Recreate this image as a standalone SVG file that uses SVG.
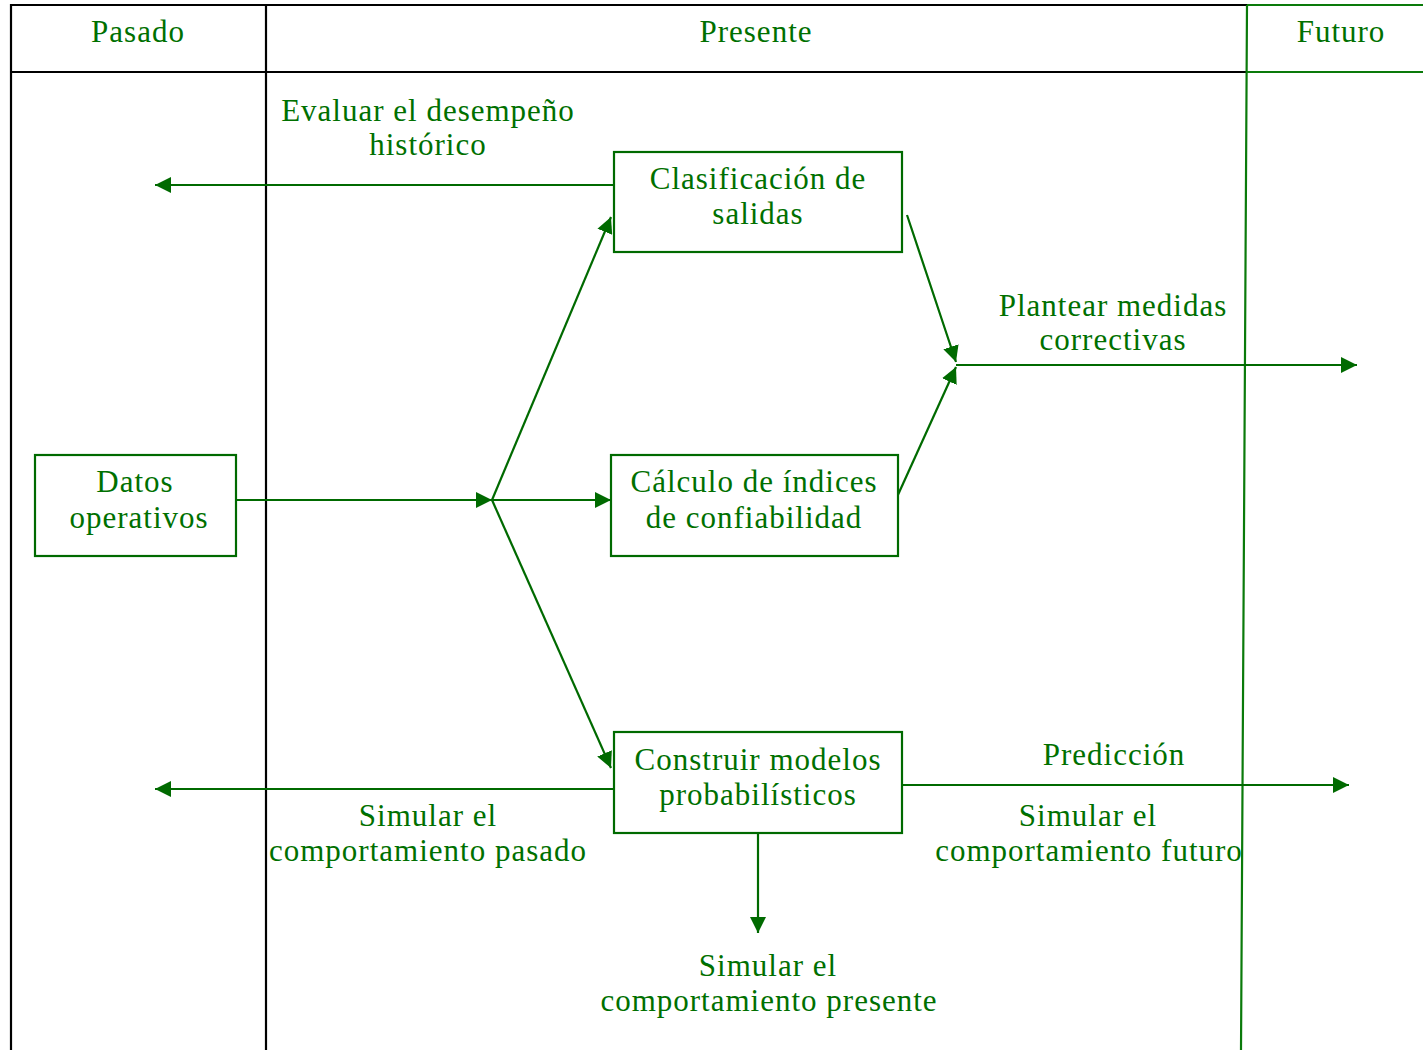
<svg xmlns="http://www.w3.org/2000/svg" width="1423" height="1050" viewBox="0 0 1423 1050">
  <defs>
    <marker id="arrow" viewBox="0 0 10 10" refX="10" refY="5" markerWidth="16" markerHeight="16" markerUnits="userSpaceOnUse" orient="auto">
      <path d="M0,0 L10,5 L0,10 Z" fill="#006a00"/>
    </marker>
    <style>
      .frame { stroke: #000; stroke-width: 2.2; fill: none; }
      .gframe { stroke: #0a7a0a; stroke-width: 2.2; fill: none; }
      .box { stroke: #006a00; stroke-width: 2.2; fill: #fff; }
      .link { stroke: #006a00; stroke-width: 2.2; fill: none; }
      .arr { marker-end: url(#arrow); }
      text { font-family: "Liberation Serif", "DejaVu Serif", serif; font-size: 31px; letter-spacing: 1px; fill: #007000; text-anchor: middle; }
    </style>
  </defs>

  <rect width="1423" height="1050" fill="#fff"/>

  <!-- Time-line table -->
  <g id="table">
    <path class="frame" d="M11,1050 V5 H1247 M11,72 H1247 M266,5 V1050"/>
    <path class="gframe" d="M1247,5 H1423 M1247,72 H1423 M1247,5 L1241,1050"/>
    <text x="138" y="42">Pasado</text>
    <text x="756" y="42">Presente</text>
    <text x="1341" y="42">Futuro</text>
  </g>

  <!-- Connectors -->
  <g id="connectors">
    <line class="link arr" x1="614" y1="185" x2="155" y2="185"/>
    <line class="link arr" x1="236" y1="500" x2="492" y2="500"/>
    <line class="link arr" x1="492" y1="500" x2="611" y2="500"/>
    <line class="link arr" x1="492" y1="500" x2="611" y2="217"/>
    <line class="link arr" x1="492" y1="500" x2="611" y2="768"/>
    <line class="link arr" x1="907" y1="215" x2="956" y2="362"/>
    <line class="link arr" x1="897" y1="497" x2="956" y2="367"/>
    <line class="link arr" x1="956" y1="365" x2="1357" y2="365"/>
    <line class="link arr" x1="614" y1="789" x2="155" y2="789"/>
    <line class="link arr" x1="898" y1="785" x2="1349" y2="785"/>
    <line class="link arr" x1="758" y1="833" x2="758" y2="933"/>
    <text x="428" y="121">Evaluar el desempeño</text>
    <text x="428" y="155">histórico</text>
    <text x="1113" y="316">Plantear medidas</text>
    <text x="1113" y="350">correctivas</text>
    <text x="1114" y="765">Predicción</text>
    <text x="428" y="826">Simular el</text>
    <text x="428" y="861">comportamiento pasado</text>
    <text x="1088" y="826">Simular el</text>
    <text x="1089" y="861">comportamiento futuro</text>
    <text x="768" y="976">Simular el</text>
    <text x="769" y="1011">comportamiento presente</text>
  </g>

  <g id="datos">
    <rect class="box" x="35" y="455" width="201" height="101"/>
    <text x="135" y="492">Datos</text>
    <text x="139" y="528">operativos</text>
  </g>

  <g id="clasificacion">
    <rect class="box" x="614" y="152" width="288" height="100"/>
    <text x="758" y="189">Clasificación de</text>
    <text x="758" y="224">salidas</text>
  </g>

  <g id="calculo">
    <rect class="box" x="611" y="455" width="287" height="101"/>
    <text x="754" y="492">Cálculo de índices</text>
    <text x="754" y="528">de confiabilidad</text>
  </g>

  <g id="modelos">
    <rect class="box" x="614" y="732" width="288" height="101"/>
    <text x="758" y="770">Construir modelos</text>
    <text x="758" y="805">probabilísticos</text>
  </g>
</svg>
